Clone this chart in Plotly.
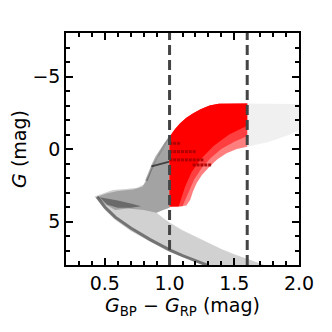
import plotly.graph_objects as go

# colour-magnitude diagram: isochrone family, giants selected between two colour cuts
color_cuts = [1.0, 1.6]

# grey isochrone envelope (BP-RP, G)
gray_env_x = [0.42, 0.50, 0.56, 0.66, 0.75, 0.80, 0.82, 0.84, 0.86, 0.90, 0.93, 0.96, 1.00,
              1.00, 0.95, 0.90, 0.95, 1.00, 1.10, 1.20, 1.30, 1.40, 1.50, 1.60, 1.70, 1.76,
              1.30, 1.20, 1.00, 0.85, 0.70, 0.58, 0.50, 0.45, 0.42]
gray_env_y = [3.28, 3.00, 2.82, 2.75, 2.68, 2.45, 2.10, 1.70, 1.20, 0.60, 0.07, -0.40, -0.85,
              4.06, 4.20, 4.40, 4.75, 5.07, 5.60, 6.05, 6.50, 6.90, 7.25, 7.60, 7.90, 8.10,
              8.10, 7.80, 7.10, 6.40, 5.65, 4.90, 4.20, 3.60, 3.28]

# denser turnoff / subgiant / lower giant region
gray_upper_x = [0.44, 0.52, 0.60, 0.72, 0.79, 0.82, 0.86, 0.92, 1.00, 1.00, 0.95, 0.90,
                0.80, 0.68, 0.58, 0.50, 0.44]
gray_upper_y = [3.30, 3.05, 2.90, 2.80, 2.60, 2.20, 1.40, 0.40, -0.60, 4.06, 4.20, 4.40,
                4.20, 4.10, 4.20, 3.80, 3.30]

# darker streak near the turnoff
gray_knot_x = [0.46, 0.52, 0.60, 0.70, 0.78, 0.70, 0.60, 0.52, 0.46]
gray_knot_y = [3.32, 3.40, 3.55, 3.75, 3.95, 4.05, 4.05, 3.85, 3.32]

# right part of the giant branch beyond the red cut
gray_giant_x = [1.60, 1.80, 2.05, 2.05, 1.90, 1.75, 1.60]
gray_giant_y = [-3.13, -3.12, -3.10, -1.50, -0.90, -0.45, -0.16]

ms_edge_x = [0.44, 0.50, 0.58, 0.70, 0.85, 1.00, 1.10, 1.20, 1.30]
ms_edge_y = [3.30, 4.00, 4.70, 5.45, 6.25, 6.95, 7.35, 7.70, 8.05]

rgb_x = [0.82, 0.84, 0.87, 0.90, 0.94, 0.97, 1.00]
rgb_y = [2.20, 1.70, 1.10, 0.55, 0.00, -0.40, -0.80]

clump_gray_x = [0.86, 0.92, 1.00]
clump_gray_y = [1.20, 1.05, 0.87]

# selected giants (red), three density layers
red_x = [1.00, 1.04, 1.08, 1.13, 1.18, 1.24, 1.31, 1.38, 1.60, 1.60, 1.52, 1.44, 1.37,
         1.31, 1.25, 1.21, 1.18, 1.16, 1.13, 1.08, 1.00]
red_y = [-0.84, -1.35, -1.76, -2.15, -2.44, -2.75, -3.00, -3.12, -3.13, -0.16, 0.00, 0.30,
         0.70, 1.20, 1.80, 2.35, 2.95, 3.50, 3.90, 3.97, 3.97]

red_mid_x = [1.00, 1.04, 1.08, 1.13, 1.18, 1.24, 1.31, 1.38, 1.60, 1.60, 1.50, 1.40, 1.32,
             1.25, 1.19, 1.15, 1.12, 1.10, 1.00]
red_mid_y = [-0.84, -1.35, -1.76, -2.15, -2.44, -2.75, -3.00, -3.12, -3.13, -0.90, -0.50,
             0.00, 0.60, 1.30, 2.10, 2.90, 3.55, 3.95, 3.97]

red_core_x = [1.00, 1.04, 1.08, 1.13, 1.18, 1.24, 1.31, 1.38, 1.60, 1.60, 1.46, 1.34, 1.24,
              1.17, 1.12, 1.09, 1.07, 1.00]
red_core_y = [-0.84, -1.35, -1.76, -2.15, -2.44, -2.75, -3.00, -3.12, -3.13, -1.60, -1.00,
              -0.20, 0.70, 1.60, 2.60, 3.50, 3.97, 3.97]

# red clump points
clump_x = [1.01, 1.04, 1.07,
           1.01, 1.04, 1.07, 1.10, 1.13, 1.16, 1.19,
           1.01, 1.04, 1.07, 1.10, 1.13, 1.16, 1.19, 1.22, 1.25,
           1.19, 1.22, 1.25, 1.28, 1.31]
clump_y = [-0.39, -0.39, -0.39,
           0.18, 0.18, 0.18, 0.18, 0.18, 0.18, 0.18,
           0.75, 0.75, 0.75, 0.75, 0.75, 0.75, 0.75, 0.75, 0.75,
           1.10, 1.10, 1.10, 1.10, 1.10]

fig = go.Figure()

def band(x, y, fill):
    fig.add_trace(go.Scatter(x=x, y=y, mode="lines", fill="toself", fillcolor=fill,
                             line=dict(width=0), hoverinfo="skip", showlegend=False))

def track(x, y, color, width):
    fig.add_trace(go.Scatter(x=x, y=y, mode="lines", line=dict(color=color, width=width),
                             hoverinfo="skip", showlegend=False))

band(gray_env_x, gray_env_y, "rgba(0,0,0,0.18)")
band(gray_upper_x, gray_upper_y, "rgba(0,0,0,0.22)")
band(gray_knot_x, gray_knot_y, "rgba(0,0,0,0.35)")
band(gray_giant_x, gray_giant_y, "rgba(0,0,0,0.06)")
track(ms_edge_x, ms_edge_y, "rgba(0,0,0,0.45)", 3)
track(rgb_x, rgb_y, "rgba(0,0,0,0.3)", 2.5)
track(clump_gray_x, clump_gray_y, "rgba(0,0,0,0.6)", 2)

band(red_x, red_y, "rgba(255,0,0,0.5)")
band(red_mid_x, red_mid_y, "rgba(255,0,0,0.5)")
band(red_core_x, red_core_y, "rgba(255,0,0,1.0)")
fig.add_trace(go.Scatter(x=clump_x, y=clump_y, mode="markers",
                         marker=dict(symbol="square", size=3, color="rgba(170,0,0,0.9)", line=dict(width=0)),
                         hoverinfo="skip", showlegend=False))

for c in color_cuts:
    fig.add_shape(type="line", x0=c, x1=c, y0=0, y1=1, yref="paper",
                  line=dict(color="#444444", width=3, dash="10px,5px"))

axis = dict(showline=True, linecolor="black", linewidth=1.5, mirror="ticks", ticks="inside",
            ticklen=7, tickwidth=1.5, tickcolor="black", showgrid=False, zeroline=False,
            automargin=False, tickfont=dict(size=19, color="black"))

fig.update_xaxes(range=[0.2, 2.0], tickvals=[0.5, 1.0, 1.5, 2.0], ticktext=["0.5", "1.0", "1.5", "2.0"],
                 minor=dict(ticks="inside", dtick=0.1, tick0=0, ticklen=4, tickwidth=1.5, tickcolor="black"),
                 title=dict(text="<i>G</i><sub>BP</sub> − <i>G</i><sub>RP</sub> (mag)",
                            font=dict(size=19, color="black"), standoff=4),
                 **axis)
fig.update_yaxes(range=[8, -8], tickvals=[-5, 0, 5],
                 minor=dict(ticks="inside", dtick=1, tick0=0, ticklen=4, tickwidth=1.5, tickcolor="black"),
                 title=dict(text="<i>G</i> (mag)", font=dict(size=19, color="black"), standoff=10),
                 **axis)

# the page body keeps its default 8px margin, so the figure starts 8px in
fig.update_layout(width=324, height=324, margin=dict(l=58, r=33, t=25, b=67),
                  plot_bgcolor="white", paper_bgcolor="white",
                  font=dict(family="DejaVu Sans", color="black"))

fig.write_html("out.html")
